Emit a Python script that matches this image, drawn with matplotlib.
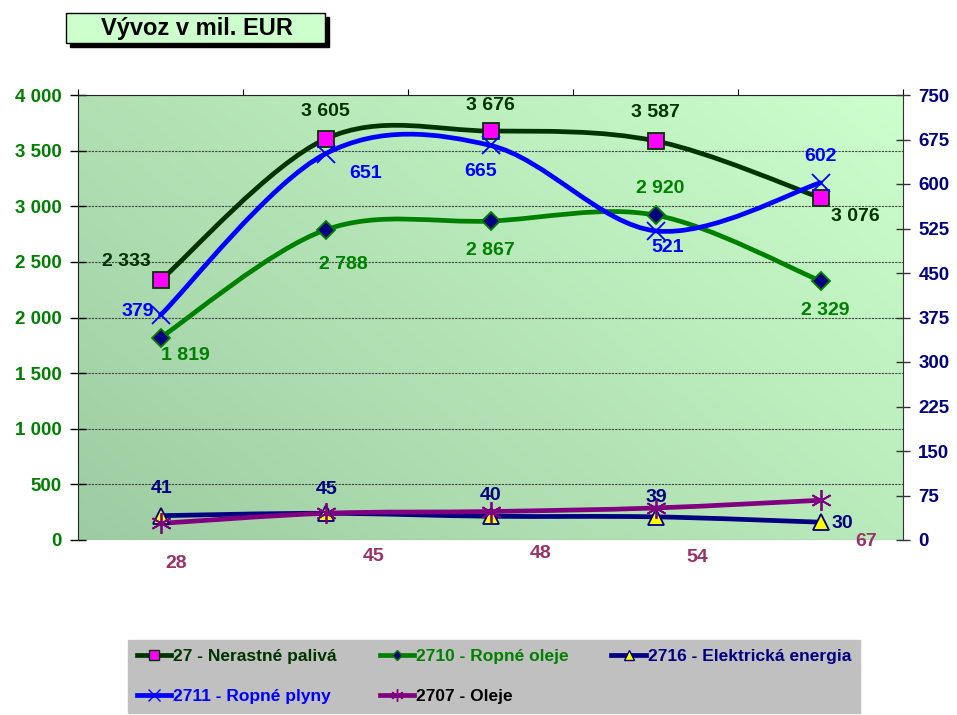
import numpy as np
import matplotlib
matplotlib.use("Agg")
import matplotlib.pyplot as plt
from matplotlib.path import Path
from matplotlib.patches import PathPatch, Rectangle
from matplotlib.lines import Line2D

plt.rcParams['font.family'] = ['Liberation Sans', 'DejaVu Sans']
plt.rcParams['font.weight'] = 'bold'

# data (mil. EUR)
categories = ['1', '2', '3', '4', '5']
nerastne = [2333, 3605, 3676, 3587, 3076]      # 27 - left axis
ropne_oleje = [1819, 2788, 2867, 2920, 2329]   # 2710 - left axis
elektrina = [41, 45, 40, 39, 30]               # 2716 - right axis
ropne_plyny = [379, 651, 665, 521, 602]        # 2711 - right axis
oleje = [28, 45, 48, 54, 67]                   # 2707 - right axis


def smooth_path(xs, ys):
    # excel-like smoothed line as cubic bezier segments
    P = np.column_stack([xs, ys]).astype(float)
    n = len(P)
    verts = [P[0]]
    codes = [Path.MOVETO]
    for i in range(n - 1):
        p_prev = P[i - 1] if i > 0 else P[i]
        p_next2 = P[i + 2] if i + 2 < n else P[i + 1]
        c1 = P[i] + (P[i + 1] - p_prev) / 6.0
        c2 = P[i + 1] - (p_next2 - P[i]) / 6.0
        verts += [c1, c2, P[i + 1]]
        codes += [Path.CURVE4] * 3
    return Path(verts, codes)


fig = plt.figure(figsize=(9.57, 7.15), dpi=100)
ax = fig.add_axes([78 / 957, 1 - 540 / 715, 825 / 957, 445 / 715])
ax2 = ax.twinx()

x = np.arange(len(categories))

# gradient background
grad_x, grad_y = np.meshgrid(np.linspace(0, 1, 200), np.linspace(0, 1, 200))
t = (grad_x * 0.6 + grad_y * 0.4)
c0 = np.array([158, 204, 162]) / 255
c1 = np.array([204, 255, 204]) / 255
img = c0[None, None, :] * (1 - t[..., None]) + c1[None, None, :] * t[..., None]
ax.imshow(img, origin='lower', extent=[0, 1, 0, 1], transform=ax.transAxes,
          aspect='auto', zorder=0)

ax.set_xlim(-0.5, 4.5)
ax.set_ylim(0, 4000)
ax2.set_ylim(0, 750)

series_left = [
    (nerastne, '#003300', 's', '#ff00ff', '#003300', 11),
    (ropne_oleje, '#008000', 'D', '#000080', '#008000', 9),
]
series_right = [
    (elektrina, '#000080', '^', '#ffff00', '#000080', 12),
    (ropne_plyny, '#0000ff', 'x', '#0000ff', '#0000ff', 13),
    (oleje, '#800080', (6, 2, 0), '#800080', '#800080', 15),
]

for axis, group in ((ax, series_left), (ax2, series_right)):
    for vals, col, mk, mfc, mec, ms in group:
        axis.add_patch(PathPatch(smooth_path(x, vals), fill=False, edgecolor=col,
                                 lw=3.4, capstyle='round', joinstyle='round', zorder=3))
        axis.plot(x, vals, linestyle='none', marker=mk, markersize=ms,
                  markerfacecolor=mfc, markeredgecolor=mec, markeredgewidth=1.3, zorder=4)


def fmt(v):
    return '{:,}'.format(v).replace(',', ' ')


def labels(axis, vals, offsets, color):
    for i, v in enumerate(vals):
        dx, dy = offsets[i]
        axis.annotate(fmt(v), (x[i], v), xytext=(dx, dy), textcoords='offset pixels',
                      ha='center', va='center', color=color, fontsize=14,
                      fontweight='bold', zorder=6, annotation_clip=False)


labels(ax, nerastne, [(-34, 19), (0, 27), (0, 26), (0, 28), (35, -19)], '#003300')
labels(ax, ropne_oleje, [(25, -18), (18, -35), (0, -29), (5, 27), (5, -30)], '#008000')
labels(ax2, ropne_plyny, [(-23, 4), (40, -20), (-10, -26), (12, -17), (0, 26)], '#0000ff')
labels(ax2, elektrina, [(1, 27), (1, 24), (0, 21), (1, 19), (22, -1)], '#000080')
labels(ax2, oleje, [(16, -40), (48, -43), (50, -42), (42, -50), (46, -41)], '#993366')

# axes styling
ax.set_yticks(np.arange(0, 4001, 500))
ax.set_yticklabels([fmt(v) for v in range(0, 4001, 500)])
ax.tick_params(axis='y', direction='inout', length=12, width=1, pad=6,
               labelcolor='#008000', labelsize=13.5)
ax2.set_yticks(np.arange(0, 751, 75))
ax2.tick_params(axis='y', direction='inout', length=10, width=1, pad=6,
                labelsize=13.5, colors='#333333')
for lab in ax2.get_yticklabels():
    lab.set_color('#000080')
    lab.set_fontweight('bold')
for lab in ax.get_yticklabels():
    lab.set_fontweight('bold')

ax.set_xticks(np.arange(-0.5, 5, 1))
ax.xaxis.tick_top()
ax.tick_params(axis='x', direction='out', length=4, labeltop=False, labelbottom=False)

ax.yaxis.grid(True, linestyle=(0, (2, 1)), color='#444444', lw=0.8, zorder=1)
ax.set_axisbelow(True)

ax.spines['bottom'].set_visible(False)
ax.spines['right'].set_visible(False)
ax.spines['top'].set_color('#222222')
ax.spines['left'].set_color('#222222')
for s in ('left', 'top', 'bottom'):
    ax2.spines[s].set_visible(False)
ax2.spines['right'].set_color('#333333')

# title box with shadow
fig.patches.append(Rectangle((70 / 957, 1 - 47 / 715), 259 / 957, 30 / 715,
                             transform=fig.transFigure, facecolor='black',
                             edgecolor='black', zorder=1))
fig.patches.append(Rectangle((66 / 957, 1 - 43 / 715), 259 / 957, 30 / 715,
                             transform=fig.transFigure, facecolor='#ccffcc',
                             edgecolor='black', lw=1, zorder=2))
fig.text(197 / 957, 1 - 28 / 715, 'Vývoz v mil. EUR', ha='center', va='center',
         fontsize=17, fontweight='bold', color='black', zorder=3)

# legend
h27 = Line2D([], [], color='#003300', lw=3.4, marker='s', markersize=7,
             markerfacecolor='#ff00ff', markeredgecolor='#003300')
h2710 = Line2D([], [], color='#008000', lw=3.4, marker='D', markersize=5,
               markerfacecolor='#000080', markeredgecolor='#008000')
h2716 = Line2D([], [], color='#000080', lw=3.4, marker='^', markersize=7,
               markerfacecolor='#ffff00', markeredgecolor='#000080')
h2711 = Line2D([], [], color='#0000ff', lw=3.4, marker='x', markersize=8)
h2707 = Line2D([], [], color='#800080', lw=3.4, marker=(6, 2, 0), markersize=9)

handles = [h27, h2711, h2710, h2707, h2716]
names = ['27 - Nerastné palivá', '2711 - Ropné plyny', '2710 - Ropné oleje',
         '2707 - Oleje', '2716 - Elektrická energia']
name_colors = ['#003300', '#0000ff', '#008000', '#000000', '#000080']

leg = fig.legend(handles, names, ncol=3, loc='lower left',
                 bbox_to_anchor=(128 / 957, 2 / 715, 732 / 957, 72 / 715),
                 mode='expand', frameon=True, fancybox=False, facecolor='#c0c0c0',
                 edgecolor='#c0c0c0', framealpha=1, handlelength=2.0,
                 handletextpad=0.1, borderaxespad=0, labelspacing=1.45,
                 borderpad=0.5, prop={'weight': 'bold', 'size': 12.5})
for txt, c in zip(leg.get_texts(), name_colors):
    txt.set_color(c)

fig.savefig('out.png', dpi=100)
